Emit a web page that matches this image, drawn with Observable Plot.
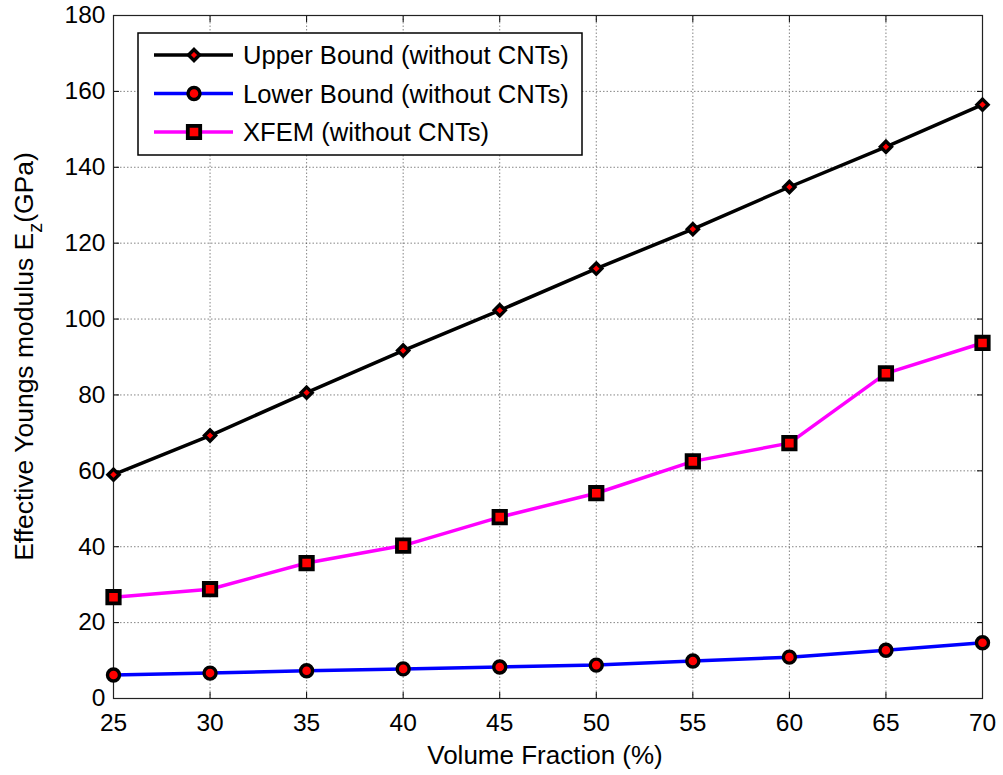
<!DOCTYPE html>
<html><head><meta charset="utf-8">
<script src="https://cdn.jsdelivr.net/npm/d3@7"></script>
<script src="https://cdn.jsdelivr.net/npm/@observablehq/plot@0.6"></script>
<style>body{margin:0;background:#fff} svg{display:block}</style>
</head><body><div id="chart"></div>
<script>
const volumeFraction = [25, 30, 35, 40, 45, 50, 55, 60, 65, 70];
const upperBound = [59.0, 69.3, 80.6, 91.7, 102.3, 113.3, 123.7, 134.8, 145.4, 156.5];
const lowerBound = [6.2, 6.7, 7.3, 7.8, 8.3, 8.8, 9.9, 10.9, 12.7, 14.7];
const xfem = [26.7, 28.8, 35.7, 40.3, 47.8, 54.1, 62.5, 67.3, 85.7, 93.7];
const xTicks = [25, 30, 35, 40, 45, 50, 55, 60, 65, 70];
const yTicks = [0, 20, 40, 60, 80, 100, 120, 140, 160, 180];
const seriesNames = ["Upper Bound (without CNTs)", "Lower Bound (without CNTs)", "XFEM (without CNTs)"];

const FONT = "'Liberation Sans', Arial, Helvetica, sans-serif";
const series = [
  {name: seriesNames[0], values: upperBound, color: "#000000", symbol: "diamond2", r: 5, sw: 3.4},
  {name: seriesNames[1], values: lowerBound, color: "#0000ff", symbol: "circle", r: 6, sw: 3.4},
  {name: seriesNames[2], values: xfem, color: "#ff00ff", symbol: "square", r: 7, sw: 3.8}
];
const rows = series.map(s => volumeFraction.map((x, i) => ({x, y: s.values[i], series: s.name})));

const gridStyle = {stroke: "#333", strokeOpacity: 0.75, strokeWidth: 0.8, strokeDasharray: "1.5,2"};
const marks = [
  Plot.gridX(xTicks, gridStyle),
  Plot.gridY(yTicks, gridStyle),
  Plot.axisX(xTicks, {anchor: "bottom", tickSize: -6, tickPadding: 21, fontSize: 24.5, label: null}),
  Plot.axisX(xTicks, {anchor: "top", tickSize: -6, tickFormat: () => null, label: null}),
  Plot.axisY(yTicks, {anchor: "left", tickSize: -6, tickPadding: 14, fontSize: 24.5, label: null}),
  Plot.axisY(yTicks, {anchor: "right", tickSize: -6, tickFormat: () => null, label: null}),
  Plot.frame({stroke: "#222", strokeWidth: 1.2})
];
series.forEach((s, k) => {
  marks.push(Plot.line(rows[k], {x: "x", y: "y", stroke: s.color, strokeWidth: 3.5}));
  marks.push(Plot.dot(rows[k], {x: "x", y: "y", symbol: () => s.symbol, r: s.r, fill: "#ff0000", stroke: "#000", strokeWidth: s.sw}));
});

const chart = Plot.plot({
  width: 1003, height: 775,
  marginLeft: 113, marginRight: 21, marginTop: 15, marginBottom: 77,
  x: {domain: [25, 70]},
  y: {domain: [0, 180]},
  symbol: {type: "identity"},
  style: {fontFamily: FONT, fontSize: "24px", color: "#000", background: "#fff"},
  marks
});
document.getElementById("chart").appendChild(chart);

const svg = d3.select(chart);
// x label
svg.append("text").attr("x", 545).attr("y", 764).attr("text-anchor", "middle")
  .attr("font-family", FONT).attr("font-size", 26).attr("fill", "#000").text("Volume Fraction (%)");
// y label with subscript
const yl = svg.append("text").attr("transform", "translate(32.5,356.5) rotate(-90)").attr("text-anchor", "middle")
  .attr("font-family", FONT).attr("font-size", 26.5).attr("fill", "#000");
yl.append("tspan").text("Effective Youngs modulus E");
yl.append("tspan").attr("font-size", 20).attr("dy", 9).text("z");
yl.append("tspan").attr("dy", -9).text("(GPa)");

// legend
const lg = svg.append("g");
lg.append("rect").attr("x", 138).attr("y", 33).attr("width", 444).attr("height", 122)
  .attr("fill", "#fff").attr("stroke", "#000").attr("stroke-width", 1.5);
const symMap = {diamond2: d3.symbolDiamond2, circle: d3.symbolCircle, square: d3.symbolSquare};
series.forEach((s, i) => {
  const cy = 55 + i * 38.5;
  lg.append("line").attr("x1", 154).attr("x2", 233).attr("y1", cy).attr("y2", cy)
    .attr("stroke", s.color).attr("stroke-width", 3.5);
  lg.append("path").attr("transform", `translate(194,${cy})`)
    .attr("d", d3.symbol(symMap[s.symbol], Math.PI * s.r * s.r)())
    .attr("fill", "#ff0000").attr("stroke", "#000").attr("stroke-width", s.sw);
  lg.append("text").attr("x", 243).attr("y", cy + 9).attr("text-anchor", "start")
    .attr("font-family", FONT).attr("font-size", 25.6).attr("fill", "#000").text(s.name);
});
</script>
</body></html>
